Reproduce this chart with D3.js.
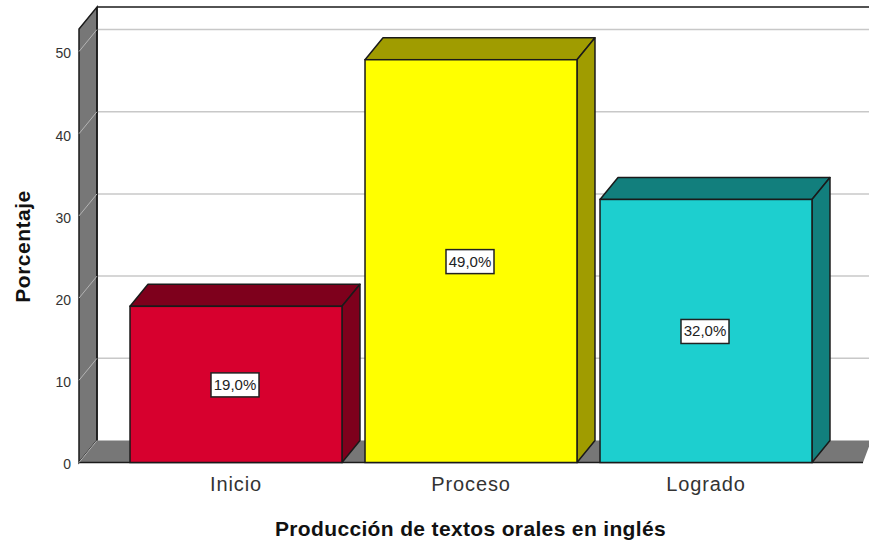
<!DOCTYPE html>
<html><head><meta charset="utf-8">
<script src="https://cdn.jsdelivr.net/npm/d3@7"></script>
<style>html,body{margin:0;padding:0;background:#fff}svg{display:block}text{font-family:"Liberation Sans",Arial,sans-serif}</style>
</head><body><div id="c"></div>
<script>
const categories=["Inicio","Proceso","Logrado"];
const values=[19,49,32];
const labels=["19,0%","49,0%","32,0%"];
const faceColors=["#d7002e","#ffff00","#1dcfcf"];
const sideColors=["#7e001c","#a09c00","#127f7d"];
const tickValues=[0,10,20,30,40,50];
const yTitle="Porcentaje";
const xTitle="Producción de textos orales en inglés";

const W=869,H=544,dx=18,dy=-22,x0=79,x1=869;
const y=d3.scaleLinear().domain([0,50]).range([462.5,51.5]);
const x=d3.scaleBand().domain(categories).range([118.5,823.5]).paddingInner(0.098).paddingOuter(0.049);
const svg=d3.select("#c").append("svg").attr("width",W).attr("height",H);
const line="#1a1a1a", grey="#777777";
const wallTop=7;

// back wall gridlines
svg.append("g").selectAll("line").data(tickValues.slice(1)).join("line")
 .attr("x1",x0+dx).attr("x2",x1).attr("y1",d=>y(d)+dy).attr("y2",d=>y(d)+dy)
 .attr("stroke","#c8c8c8").attr("stroke-width",1.5);
// top border
svg.append("line").attr("x1",x0+dx).attr("x2",x1).attr("y1",wallTop).attr("y2",wallTop).attr("stroke",line).attr("stroke-width",1.5);
// left wall
svg.append("path").attr("d",`M${x0},${y(0)}L${x0},${wallTop-dy}L${x0+dx},${wallTop}L${x0+dx},${y(0)+dy}Z`)
 .attr("fill",grey).attr("stroke",line).attr("stroke-width",1.5);
// floor
svg.append("path").attr("d",`M${x0},${y(0)}L${x0+dx},${y(0)+dy}L${x1},${y(0)+dy}L${x1},${y(0)-16}L${x1-6},${y(0)}Z`)
 .attr("fill",grey);
svg.append("line").attr("x1",x0).attr("x2",x1-6).attr("y1",y(0)).attr("y2",y(0)).attr("stroke",line).attr("stroke-width",1.5);
svg.append("line").attr("x1",x0+dx).attr("x2",x0+dx).attr("y1",wallTop).attr("y2",y(0)+dy).attr("stroke",line).attr("stroke-width",1.5);
// wall grid lines
svg.append("g").selectAll("line").data(tickValues).join("line")
 .attr("x1",x0).attr("x2",x0+dx).attr("y1",d=>y(d)).attr("y2",d=>y(d)+dy)
 .attr("stroke","#b4b4b4").attr("stroke-width",1);

// bars
const bars=svg.append("g").selectAll("g").data(categories).join("g");
bars.append("path").attr("d",(c,i)=>{const a=x(c),b=a+x.bandwidth(),t=y(values[i]);return `M${a},${t}L${a+dx},${t+dy}L${b+dx},${t+dy}L${b},${t}Z`;})
 .attr("fill",(c,i)=>sideColors[i]).attr("stroke",line).attr("stroke-width",1.5).attr("stroke-linejoin","round");
bars.append("path").attr("d",(c,i)=>{const b=x(c)+x.bandwidth(),t=y(values[i]);return `M${b},${t}L${b+dx},${t+dy}L${b+dx},${y(0)+dy}L${b},${y(0)}Z`;})
 .attr("fill",(c,i)=>sideColors[i]).attr("stroke",line).attr("stroke-width",1.5).attr("stroke-linejoin","round");
bars.append("rect").attr("x",c=>x(c)).attr("width",x.bandwidth()).attr("y",(c,i)=>y(values[i])).attr("height",(c,i)=>y(0)-y(values[i]))
 .attr("fill",(c,i)=>faceColors[i]).attr("stroke",line).attr("stroke-width",1.5);

// value labels
const lab=svg.append("g").selectAll("g").data(categories).join("g")
 .attr("transform",(c,i)=>`translate(${x(c)+x.bandwidth()/2-1},${(y(values[i])+y(0))/2+.5})`);
lab.append("rect").attr("x",-24).attr("y",-12).attr("width",48).attr("height",24).attr("fill","#fff").attr("stroke","#222").attr("stroke-width",1.5);
lab.append("text").attr("text-anchor","middle").attr("y",5).attr("font-size",15).attr("fill","#222").text((c,i)=>labels[i]);

// y axis
const ax=svg.append("g").attr("transform",`translate(${x0},0)`).call(d3.axisLeft(y).tickValues(tickValues).tickSize(0).tickPadding(8));
ax.select(".domain").remove();
ax.selectAll("text").attr("font-size",14).attr("font-family",'"Liberation Sans",Arial,sans-serif').attr("fill","#333").attr("dy","0.45em");

// x axis
const bx=svg.append("g").attr("transform",`translate(0,${y(0)})`).call(d3.axisBottom(x).tickSize(0).tickPadding(14));
bx.select(".domain").remove();
bx.selectAll("text").attr("font-size",20).attr("font-family",'"Liberation Sans",Arial,sans-serif').attr("fill","#333").attr("letter-spacing",0.9);

svg.append("text").attr("x",470.5).attr("y",536).attr("text-anchor","middle").attr("font-size",21).attr("letter-spacing",0.35).attr("font-weight","bold").attr("fill","#111").text(xTitle);
svg.append("text").attr("transform","translate(30,246.5) rotate(-90)").attr("text-anchor","middle").attr("font-size",21).attr("letter-spacing",0.5).attr("font-weight","bold").attr("fill","#111").text(yTitle);
</script></body></html>
